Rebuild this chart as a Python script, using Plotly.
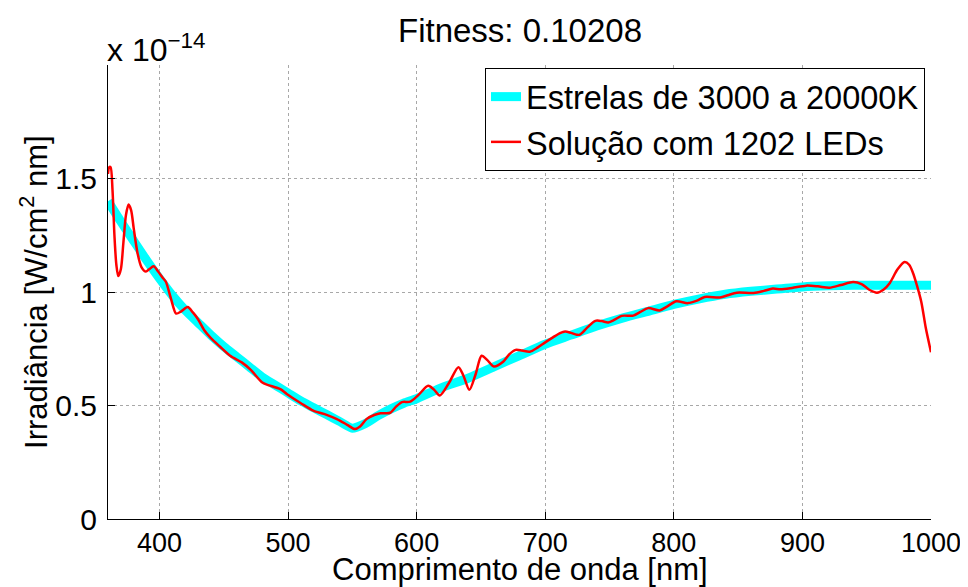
import plotly.graph_objects as go

# ---- data (irradiance in units of 1e-14 W/cm^2 nm) ----
star_wl = [360, 370, 380, 390, 400, 410, 420, 430, 440, 450, 460, 470, 480, 490, 500,
           510, 520, 530, 540, 550, 560, 570, 580, 590, 600, 620, 640, 660, 680, 700,
           720, 740, 760, 780, 800, 820, 840, 860, 880, 900, 920, 940, 960, 980, 1000]
star_val = [1.40, 1.31, 1.225, 1.14, 1.06, 0.985, 0.92, 0.865, 0.81, 0.76, 0.715, 0.67, 0.625, 0.59, 0.555,
            0.52, 0.49, 0.46, 0.43, 0.40, 0.42, 0.455, 0.485, 0.51, 0.53, 0.58, 0.62, 0.67, 0.72, 0.77,
            0.81, 0.85, 0.885, 0.915, 0.945, 0.97, 0.99, 1.003, 1.013, 1.022, 1.027, 1.03, 1.03, 1.03, 1.03]

led_wl = [360, 361, 362, 363.5, 365, 366.5, 368, 370, 372, 374, 376, 378, 380, 383, 386, 389.5,
          392, 395.5, 399, 402.5, 405, 409, 413, 417, 422, 426, 430, 435, 440, 447, 455, 464,
          471, 480, 484, 494, 499, 510, 520, 530, 538, 546, 552, 556, 561, 567, 572, 579.5,
          584, 588.6, 595, 601.5, 609, 613.5, 618, 625, 632.5, 636.5, 641, 646, 650.5, 655,
          660, 667.5, 672, 677, 682, 688, 694, 700, 706, 711.5, 715.5, 720, 724.5, 727,
          733, 739, 744, 749, 754, 759.5, 768.5, 774, 780, 789, 795, 802, 811, 818, 824,
          836, 842, 849, 862, 870, 877, 883, 892, 903, 912, 921, 930, 939.5, 946, 952, 958,
          963, 968, 974, 979.5, 983, 986, 989, 992.5, 996, 1000]
led_val = [1.52, 1.55, 1.55, 1.45, 1.25, 1.12, 1.07, 1.10, 1.22, 1.34, 1.385, 1.36, 1.28, 1.17, 1.11, 1.09,
           1.10, 1.113, 1.09, 1.063, 1.045, 0.97, 0.905, 0.915, 0.934, 0.91, 0.88, 0.83, 0.797, 0.76, 0.719, 0.69,
           0.657, 0.601, 0.591, 0.572, 0.551, 0.51, 0.476, 0.459, 0.44, 0.415, 0.396, 0.407, 0.44, 0.458, 0.466, 0.468,
           0.495, 0.515, 0.517, 0.547, 0.587, 0.57, 0.544, 0.598, 0.669, 0.63, 0.569, 0.64, 0.719, 0.70,
           0.672, 0.694, 0.725, 0.745, 0.742, 0.737, 0.755, 0.778, 0.80, 0.819, 0.826, 0.82, 0.812, 0.812,
           0.845, 0.873, 0.872, 0.866, 0.878, 0.895, 0.896, 0.912, 0.929, 0.919, 0.937, 0.959, 0.951, 0.962, 0.978,
           0.976, 0.986, 0.997, 0.996, 1.005, 1.015, 1.012, 1.018, 1.028, 1.025, 1.019, 1.031, 1.044, 1.035, 1.01, 0.997,
           1.01, 1.04, 1.10, 1.132, 1.12, 1.084, 1.03, 0.955, 0.84, 0.735]

x_ticks = [400, 500, 600, 700, 800, 900, 1000]
y_ticks = [0, 0.5, 1, 1.5]
y_tick_labels = ["0", "0.5", "1", "1.5"]
exponent = -14

star_name = "Estrelas de 3000 a 20000K"
led_name = "Solução com 1202 LEDs"
title_text = "Fitness: 0.10208"
x_title = "Comprimento de onda [nm]"
y_title = "Irradiância [W/cm<sup>2</sup> nm]"

FONT = "Liberation Sans, Arial, Helvetica, sans-serif"

fig = go.Figure()
fig.add_trace(go.Scatter(x=star_wl, y=star_val, mode="lines", name=star_name,
                         line=dict(color="#00FFFF", width=9, shape="spline", smoothing=0.6)))
fig.add_trace(go.Scatter(x=led_wl, y=led_val, mode="lines", name=led_name,
                         line=dict(color="#FF0000", width=2.5, shape="spline", smoothing=0.8)))

axis_common = dict(showline=True, linecolor="black", linewidth=1, ticks="inside", ticklen=7,
                   tickcolor="black", showgrid=True, gridcolor="#a8a8a8", griddash="dot",
                   gridwidth=1, zeroline=False, mirror=False)

fig.update_xaxes(range=[360, 1000], tickvals=x_ticks, ticktext=[str(v) for v in x_ticks],
                 tickfont=dict(family=FONT, size=27, color="black"), **axis_common)
fig.update_yaxes(range=[0, 2], tickvals=y_ticks, ticktext=y_tick_labels, ticklabelstandoff=4,
                 tickfont=dict(family=FONT, size=30, color="black"), **axis_common)

annotations = [
    dict(text=title_text, x=0.5, y=1.077, xref="paper", yref="paper", xanchor="center",
         yanchor="middle", showarrow=False, font=dict(family=FONT, size=33, color="black")),
    dict(text="x 10<sup>\u2212%d</sup>" % abs(exponent), x=-0.004, y=0.99, xref="paper", yref="paper",
         xanchor="left", yanchor="bottom", showarrow=False,
         font=dict(family=FONT, size=32, color="black")),
    dict(text=x_title, x=0.5, y=-0.112, xref="paper", yref="paper", xanchor="center",
         yanchor="middle", showarrow=False, font=dict(family=FONT, size=31, color="black")),
    dict(text=y_title, x=-0.09, y=0.5, xref="paper", yref="paper", xanchor="center",
         yanchor="middle", textangle=-90, showarrow=False,
         font=dict(family=FONT, size=31, color="black")),
]

# page has an 8px body margin, so the margins below are shifted by 8px
fig.update_layout(
    width=968, height=587,
    margin=dict(l=100, r=45, t=57, b=76, autoexpand=False),
    plot_bgcolor="white", paper_bgcolor="white",
    showlegend=True,
    legend=dict(x=0.9927, y=0.9934, xanchor="right", yanchor="top",
                bgcolor="white", bordercolor="black", borderwidth=1,
                font=dict(family=FONT, size=32.5, color="black"),
                tracegroupgap=0, itemwidth=30),
    annotations=annotations,
)

fig.write_html("out.html")
